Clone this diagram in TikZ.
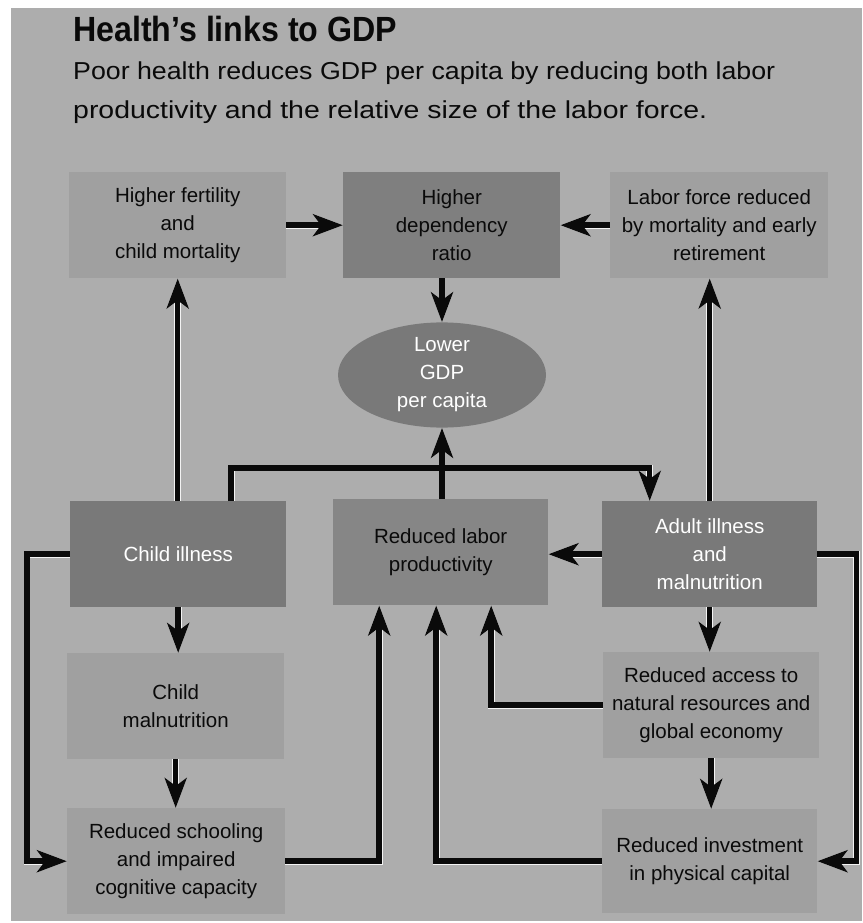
\documentclass[tikz,border=0pt]{standalone}
\usepackage{fontspec}
\usepackage{graphicx}
\setmainfont{Liberation Sans}
\usetikzlibrary{arrows.meta,shapes.geometric}
\definecolor{bg}{HTML}{ADADAD}
\definecolor{boxlight}{HTML}{A0A0A0}
\definecolor{boxmid}{HTML}{868686}
\definecolor{boxdep}{HTML}{7F7F7F}
\definecolor{boxdark}{HTML}{797979}
\definecolor{ink}{HTML}{0A0A0A}
\tikzset{
  x=1pt, y=-1pt,
  boxbase/.style={anchor=north west, inner sep=0pt, align=center,
    font=\fontsize{20.5}{28}\selectfont, text=ink},
  lightbox/.style={boxbase, fill=boxlight},
  darkbox/.style={boxbase, fill=boxdark, text=white},
  depbox/.style={boxbase, fill=boxdep},
  midbox/.style={boxbase, fill=boxmid},
  oval/.style={ellipse, inner sep=0pt, align=center, fill=boxdark, text=white,
    font=\fontsize{20.5}{28}\selectfont},
  conn/.style={line width=5.5pt, draw=ink,
    -{Stealth[length=30pt,width=22pt,inset=8pt]},
    preaction={draw=white!85!bg, line width=6.8pt}},
  headline/.style={anchor=base west, inner sep=0pt, text=ink}
}
\begin{document}
\begin{tikzpicture}
\useasboundingbox (0,0) rectangle (862,923);
\fill[white] (0,0) rectangle (862,923);
\fill[bg] (11,8) rectangle (862,921);

% title
\node[headline] (title) at (73,42)
  {\resizebox{324pt}{\height}{\fontsize{35}{40}\selectfont\bfseries Health’s links to GDP}};
\node[headline] (sub1) at (73,80)
  {\resizebox{702pt}{\height}{\fontsize{24.5}{28}\selectfont Poor health reduces GDP per capita by reducing both labor}};
\node[headline] (sub2) at (73,118)
  {\resizebox{634pt}{\height}{\fontsize{24.5}{28}\selectfont productivity and the relative size of the labor force.}};

% boxes
\node[lightbox, minimum width=217pt, minimum height=106pt] (fert) at (69,172)
  {Higher fertility\\and\\child mortality};
\node[depbox, minimum width=217pt, minimum height=106pt] (dep) at (343,172)
  {Higher\\dependency\\ratio};
\node[lightbox, minimum width=218pt, minimum height=106pt] (labor) at (610,172)
  {Labor force reduced\\by mortality and early\\retirement};
\node[oval, minimum width=208pt, minimum height=104pt] (gdp) at (442,375)
  {Lower\\GDP\\per capita};
\node[darkbox, minimum width=216pt, minimum height=106pt] (child) at (70,501)
  {Child illness};
\node[midbox, minimum width=215pt, minimum height=106pt] (prod) at (333,499)
  {Reduced labor\\productivity};
\node[darkbox, minimum width=215pt, minimum height=106pt] (adult) at (602,501)
  {Adult illness\\and\\malnutrition};
\node[lightbox, minimum width=217pt, minimum height=106pt] (cmal) at (67,653)
  {Child\\malnutrition};
\node[lightbox, minimum width=216pt, minimum height=106pt] (access) at (603,652)
  {Reduced access to\\natural resources and\\global economy};
\node[lightbox, minimum width=218pt, minimum height=106pt] (school) at (67,808)
  {Reduced schooling\\and impaired\\cognitive capacity};
\node[lightbox, minimum width=215pt, minimum height=104pt] (inv) at (602,809)
  {Reduced investment\\in physical capital};

\coordinate (jn) at (440,468);

% connectors
\draw[conn] (fert.east) -- (fert.east -| dep.west);
\draw[conn] (labor.west) -- (labor.west -| dep.east);
\draw[conn] (dep.south -| gdp.north) -- (gdp.north);
\draw[conn] (fert.south |- child.north) -- (fert.south);
\draw[conn] (adult.north) -- (adult.north |- labor.south);
\draw[conn] (gdp.south |- prod.north) -- (gdp.south);
\draw[conn] ([xshift=53pt]child.north) |- (jn) -| ([xshift=-60pt]adult.north);
\draw[conn] (adult.west) -- (adult.west -| prod.east);
\draw[conn] (child.south) -- (child.south |- cmal.north);
\draw[conn] (cmal.south) -- (cmal.south |- school.north);
\draw[conn] (child.west) -- ++(-43,0) |- (school.west);
\draw[conn] (adult.east) -- ++(39,0) |- (inv.east);
\draw[conn] (school.east) -| ([xshift=-61.5pt]prod.south);
\draw[conn] (inv.west) -| ([xshift=-4.5pt]prod.south);
\draw[conn] (access.west) -| ([xshift=50.5pt]prod.south);
\draw[conn] (adult.south) -- (adult.south |- access.north);
\draw[conn] (access.south) -- (access.south |- inv.north);
\end{tikzpicture}
\end{document}
